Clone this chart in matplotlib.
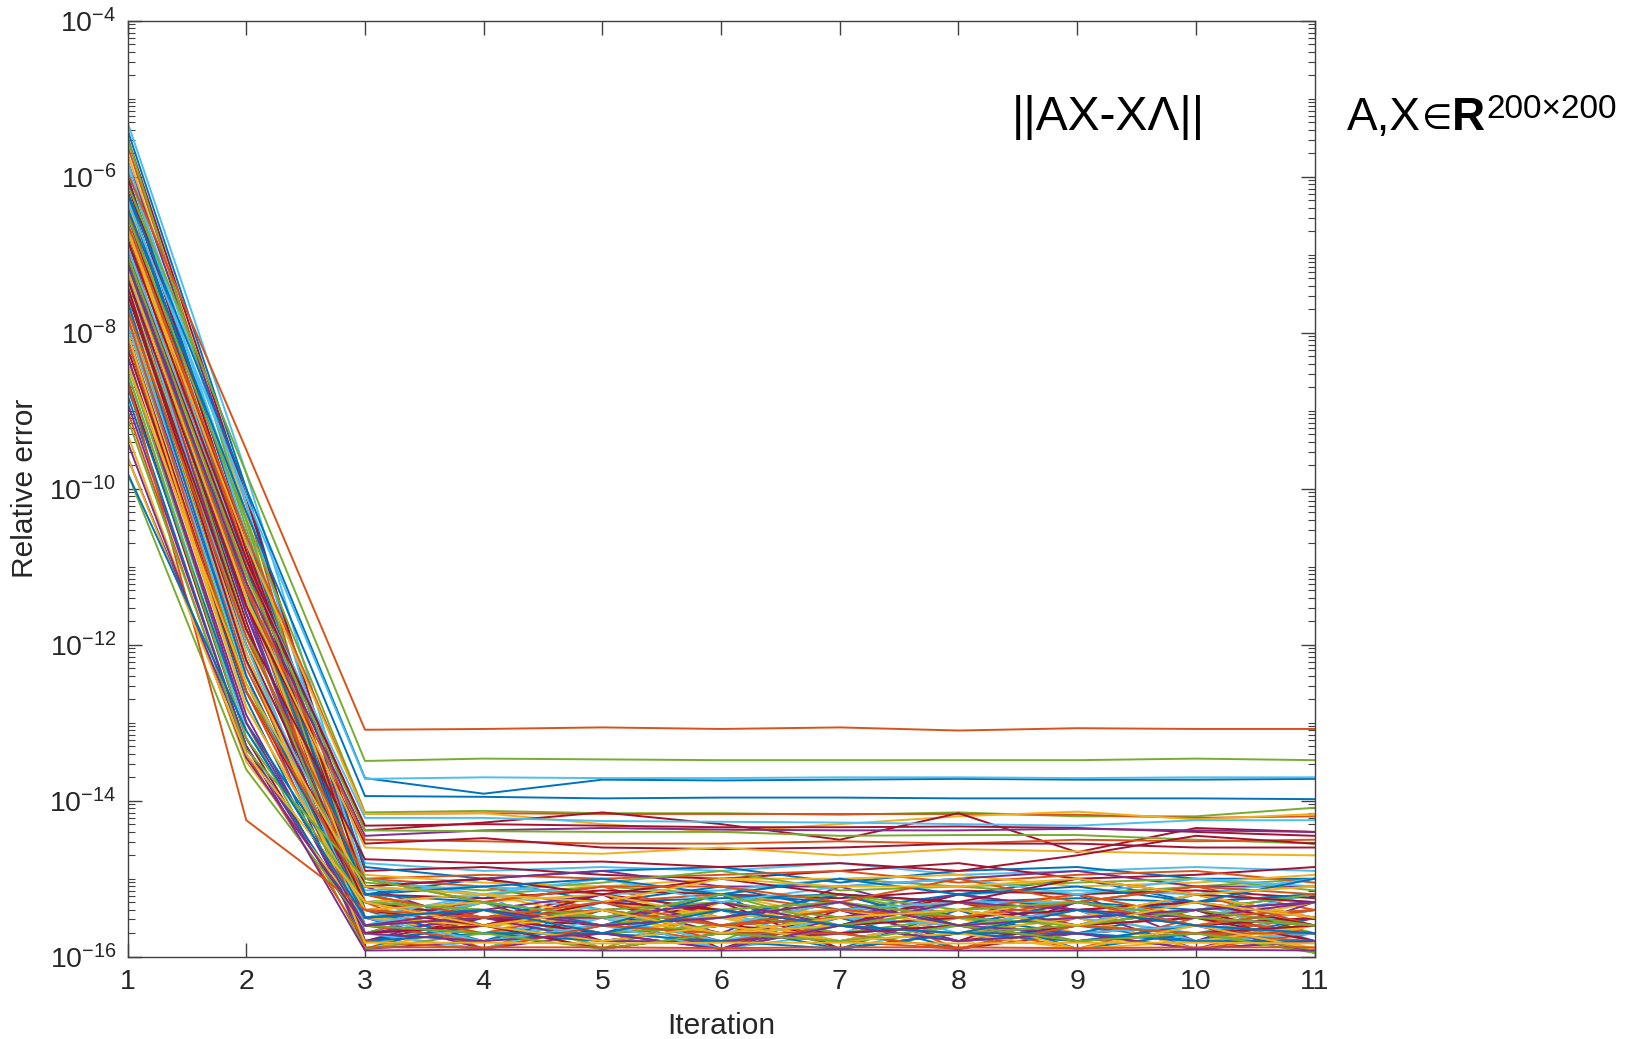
import numpy as np
import matplotlib.pyplot as plt
from matplotlib.ticker import LogLocator, NullFormatter

plt.rcParams['font.family'] = ['Liberation Sans', 'DejaVu Sans']
plt.rcParams['mathtext.fontset'] = 'custom'
plt.rcParams['mathtext.rm'] = 'Liberation Sans'
plt.rcParams['mathtext.it'] = 'Liberation Sans:italic'
plt.rcParams['mathtext.bf'] = 'Liberation Sans:bold'

iterations = np.arange(1, 12)
xtick_labels = [str(i) for i in iterations]
ytick_exps = [-16, -14, -12, -10, -8, -6, -4]
ytick_labels = [r'$10^{%d}$' % p for p in ytick_exps]

# log10 of relative error per iteration (1..11)
# lines that level off above the dense band
upper_lines = [
    [-5.95, -9.5, -13.09, -13.08, -13.06, -13.08, -13.06, -13.10, -13.07, -13.08, -13.08],
    [-6.1, -9.8, -13.49, -13.46, -13.47, -13.48, -13.48, -13.48, -13.48, -13.46, -13.48],
    [-6.2, -10.0, -13.71, -13.91, -13.73, -13.74, -13.73, -13.72, -13.73, -13.73, -13.72],
    [-6.3, -10.1, -13.72, -13.70, -13.71, -13.71, -13.70, -13.70, -13.71, -13.70, -13.70],
    [-6.4, -10.3, -13.94, -13.95, -13.97, -13.96, -13.96, -13.97, -13.97, -13.97, -13.98],
    [-6.5, -10.4, -14.15, -14.13, -14.16, -14.16, -14.18, -14.15, -14.20, -14.20, -14.09],
    [-6.6, -10.6, -14.17, -14.16, -14.17, -14.17, -14.17, -14.17, -14.18, -14.22, -14.20],
    [-6.7, -10.7, -14.17, -14.16, -14.30, -14.40, -14.30, -14.20, -14.14, -14.24, -14.17],
    [-6.8, -10.9, -14.38, -14.28, -14.15, -14.30, -14.50, -14.16, -14.66, -14.35, -14.40],
    [-6.9, -11.0, -14.22, -14.22, -14.26, -14.27, -14.28, -14.30, -14.32, -14.25, -14.25],
    [-7.0, -11.0, -14.32, -14.30, -14.32, -14.34, -14.34, -14.33, -14.35, -14.40, -14.45],
    [-7.1, -11.2, -14.45, -14.38, -14.35, -14.37, -14.38, -14.38, -14.36, -14.38, -14.40],
    [-7.0, -11.1, -14.38, -14.39, -14.40, -14.40, -14.45, -14.44, -14.44, -14.50, -14.55],
    [-7.2, -11.3, -14.50, -14.52, -14.55, -14.55, -14.52, -14.55, -14.50, -14.52, -14.50],
    [-7.3, -11.5, -14.55, -14.48, -14.60, -14.62, -14.60, -14.55, -14.55, -14.60, -14.60],
    [-7.2, -11.4, -14.60, -14.65, -14.68, -14.60, -14.70, -14.62, -14.65, -14.68, -14.70],
    [-7.5, -11.8, -14.75, -14.80, -14.78, -14.85, -14.80, -14.90, -14.70, -14.45, -14.55],
]
upper_colors = ['#D95319', '#77AC30', '#0072BD', '#4DBEEE', '#0072BD', '#77AC30',
                '#D95319', '#EDB120', '#A2142F', '#4DBEEE', '#A2142F', '#7E2F8E',
                '#77AC30', '#D95319', '#A2142F', '#EDB120', '#A2142F']

# lines inside the dense band near machine precision
band_lines = [
    [-5.4, -10.0, -15.2, -15.0, -15.3, -15.1, -15.4, -15.2, -15.0, -15.3, -15.2],
    [-5.6, -10.2, -15.5, -15.3, -15.1, -15.5, -15.2, -15.6, -15.3, -15.1, -15.4],
    [-5.7, -10.3, -15.9, -15.4, -15.6, -15.2, -15.5, -15.3, -15.7, -15.4, -15.6],
    [-5.8, -10.1, -15.1, -15.6, -15.3, -15.7, -15.1, -15.5, -15.2, -15.8, -15.3],
    [-5.9, -10.5, -15.4, -15.9, -15.4, -15.3, -15.6, -15.2, -15.5, -15.3, -15.7],
    [-6.0, -10.4, -15.6, -15.2, -15.9, -15.4, -15.3, -15.7, -15.4, -15.5, -15.2],
    [-6.1, -10.6, -15.3, -15.5, -15.2, -15.9, -15.4, -15.3, -15.6, -15.2, -15.5],
    [-6.2, -10.7, -15.7, -15.3, -15.5, -15.2, -15.9, -15.4, -15.3, -15.6, -15.4],
    [-6.3, -10.8, -15.0, -15.1, -15.4, -15.6, -15.3, -15.9, -15.5, -15.3, -15.6],
    [-6.3, -10.9, -15.5, -15.7, -15.3, -15.5, -15.6, -15.4, -15.9, -15.6, -15.3],
    [-6.4, -11.0, -15.8, -15.4, -15.7, -15.3, -15.5, -15.6, -15.4, -15.9, -15.5],
    [-6.5, -11.1, -15.2, -15.6, -15.5, -15.8, -15.2, -15.5, -15.6, -15.4, -15.95],
    [-6.5, -11.0, -15.6, -15.8, -15.3, -15.4, -15.7, -15.3, -15.5, -15.7, -15.4],
    [-6.6, -11.2, -15.4, -15.3, -15.8, -15.6, -15.4, -15.8, -15.3, -15.5, -15.6],
    [-6.7, -11.3, -15.9, -15.5, -15.4, -15.7, -15.8, -15.5, -15.7, -15.4, -15.8],
    [-6.7, -11.2, -15.3, -15.9, -15.6, -15.5, -15.3, -15.6, -15.8, -15.7, -15.5],
    [-6.8, -11.4, -15.5, -15.4, -15.9, -15.3, -15.6, -15.7, -15.4, -15.8, -15.6],
    [-6.9, -11.5, -15.7, -15.6, -15.5, -15.9, -15.5, -15.3, -15.6, -15.5, -15.7],
    [-6.9, -11.4, -15.1, -15.2, -15.1, -15.2, -15.0, -15.1, -15.2, -15.1, -15.0],
    [-7.0, -11.6, -15.6, -15.7, -15.6, -15.4, -15.9, -15.6, -15.5, -15.3, -15.8],
    [-7.1, -11.7, -15.8, -15.5, -15.7, -15.6, -15.7, -15.9, -15.7, -15.6, -15.4],
    [-7.1, -11.6, -15.4, -15.8, -15.4, -15.7, -15.5, -15.4, -15.9, -15.7, -15.6],
    [-7.2, -11.8, -15.3, -15.4, -15.6, -15.8, -15.6, -15.7, -15.5, -15.9, -15.7],
    [-7.3, -11.9, -15.9, -15.6, -15.3, -15.5, -15.8, -15.5, -15.6, -15.5, -15.9],
    [-7.3, -11.8, -15.5, -15.9, -15.7, -15.6, -15.4, -15.8, -15.7, -15.6, -15.5],
    [-7.4, -12.0, -15.7, -15.3, -15.9, -15.7, -15.6, -15.5, -15.8, -15.7, -15.6],
    [-7.5, -12.1, -15.6, -15.7, -15.5, -15.9, -15.7, -15.6, -15.4, -15.8, -15.7],
    [-7.5, -12.0, -15.2, -15.5, -15.6, -15.3, -15.9, -15.7, -15.6, -15.4, -15.8],
    [-7.6, -12.2, -15.8, -15.6, -15.8, -15.6, -15.5, -15.9, -15.6, -15.8, -15.5],
    [-7.7, -12.3, -15.4, -15.7, -15.4, -15.8, -15.7, -15.6, -15.9, -15.5, -15.7],
    [-7.7, -12.2, -15.6, -15.4, -15.7, -15.5, -15.8, -15.7, -15.5, -15.9, -15.6],
    [-7.8, -12.4, -15.9, -15.8, -15.6, -15.7, -15.6, -15.8, -15.7, -15.6, -15.95],
    [-7.9, -12.5, -15.5, -15.6, -15.9, -15.4, -15.7, -15.5, -15.8, -15.7, -15.6],
    [-7.9, -12.4, -15.7, -15.9, -15.5, -15.8, -15.5, -15.6, -15.7, -15.8, -15.7],
    [-8.0, -12.6, -15.3, -15.5, -15.7, -15.9, -15.6, -15.8, -15.6, -15.5, -15.8],
    [-8.1, -12.7, -15.8, -15.7, -15.8, -15.6, -15.9, -15.7, -15.8, -15.6, -15.7],
    [-8.1, -12.6, -15.6, -15.8, -15.6, -15.7, -15.8, -15.9, -15.6, -15.7, -15.8],
    [-8.2, -12.8, -15.4, -15.6, -15.5, -15.7, -15.6, -15.5, -15.9, -15.8, -15.6],
    [-8.3, -12.9, -15.7, -15.5, -15.8, -15.8, -15.7, -15.6, -15.7, -15.9, -15.8],
    [-8.4, -13.0, -15.9, -15.7, -15.7, -15.6, -15.8, -15.7, -15.6, -15.7, -15.9],
    [-8.5, -13.1, -15.5, -15.8, -15.6, -15.9, -15.6, -15.8, -15.7, -15.6, -15.7],
    [-8.6, -13.2, -15.7, -15.6, -15.9, -15.7, -15.7, -15.6, -15.8, -15.7, -15.6],
    [-8.8, -13.3, -15.6, -15.7, -15.7, -15.8, -15.9, -15.7, -15.7, -15.8, -15.8],
    [-9.0, -13.4, -15.8, -15.9, -15.6, -15.7, -15.7, -15.9, -15.6, -15.7, -15.7],
    [-9.3, -13.5, -15.5, -15.6, -15.8, -15.6, -15.8, -15.7, -15.9, -15.6, -15.9],
    [-9.6, -13.3, -15.7, -15.8, -15.7, -15.9, -15.6, -15.8, -15.7, -15.9, -15.8],
    [-9.8, -13.6, -15.6, -15.7, -15.9, -15.7, -15.8, -15.6, -15.8, -15.7, -15.95],
    [-5.3, -9.8, -14.8, -14.9, -14.85, -14.9, -14.8, -14.95, -14.9, -14.85, -14.9],
    [-5.5, -10.1, -14.9, -14.85, -14.95, -15.0, -14.9, -14.8, -15.0, -14.95, -14.85],
    [-6.0, -10.6, -14.85, -15.0, -14.9, -14.85, -15.05, -14.9, -14.85, -15.0, -15.0],
    [-6.2, -10.9, -15.0, -14.95, -15.0, -14.95, -14.9, -15.05, -14.95, -14.9, -15.05],
    [-6.6, -11.1, -14.95, -15.05, -15.1, -15.0, -15.0, -14.95, -15.1, -15.05, -14.95],
    [-7.0, -11.5, -15.1, -15.0, -14.9, -15.1, -15.1, -15.0, -14.9, -15.1, -15.1],
    [-7.4, -11.9, -15.05, -15.15, -15.05, -14.9, -15.15, -15.1, -15.05, -15.0, -15.15],
    [-7.8, -12.2, -15.15, -15.1, -15.2, -15.15, -15.0, -15.2, -15.15, -15.2, -15.0],
    [-8.2, -12.6, -15.2, -15.25, -15.15, -15.2, -15.25, -15.15, -15.2, -15.15, -15.25],
    [-8.7, -13.0, -15.3, -15.2, -15.3, -15.25, -15.2, -15.3, -15.25, -15.3, -15.2],
    [-6.4, -11.2, -15.88, -15.88, -15.88, -15.89, -15.88, -15.88, -15.89, -15.88, -15.88],
    [-7.6, -12.1, -15.82, -15.82, -15.83, -15.82, -15.82, -15.83, -15.82, -15.82, -15.83],
    [-8.9, -13.3, -15.92, -15.91, -15.92, -15.92, -15.91, -15.92, -15.92, -15.91, -15.92],
    [-5.5, -10.4, -15.3, -15.4, -15.5, -15.3, -15.5, -15.4, -15.3, -15.5, -15.4],
    [-5.8, -10.6, -15.5, -15.2, -15.4, -15.6, -15.3, -15.5, -15.6, -15.2, -15.3],
    [-6.0, -10.8, -15.4, -15.6, -15.2, -15.4, -15.6, -15.2, -15.4, -15.6, -15.5],
    [-6.2, -11.0, -15.2, -15.3, -15.6, -15.5, -15.2, -15.6, -15.3, -15.4, -15.2],
    [-6.4, -10.9, -15.6, -15.5, -15.3, -15.2, -15.4, -15.3, -15.5, -15.2, -15.6],
    [-6.6, -11.4, -15.3, -15.2, -15.5, -15.4, -15.3, -15.5, -15.2, -15.5, -15.3],
    [-6.8, -11.6, -15.5, -15.4, -15.2, -15.6, -15.5, -15.2, -15.4, -15.3, -15.5],
    [-7.0, -11.8, -15.4, -15.5, -15.4, -15.3, -15.2, -15.4, -15.6, -15.4, -15.2],
    [-7.2, -12.0, -15.6, -15.3, -15.5, -15.5, -15.4, -15.3, -15.3, -15.6, -15.4],
    [-7.4, -12.2, -15.3, -15.6, -15.3, -15.4, -15.6, -15.5, -15.4, -15.3, -15.6],
    [-7.6, -12.4, -15.5, -15.4, -15.6, -15.2, -15.3, -15.6, -15.5, -15.4, -15.3],
    [-7.8, -12.6, -15.2, -15.5, -15.4, -15.6, -15.5, -15.4, -15.2, -15.5, -15.4],
    [-8.0, -12.8, -15.4, -15.3, -15.2, -15.5, -15.4, -15.6, -15.5, -15.2, -15.5],
    [-8.3, -13.0, -15.6, -15.5, -15.5, -15.3, -15.6, -15.3, -15.4, -15.5, -15.3],
    [-8.5, -13.2, -15.3, -15.4, -15.6, -15.4, -15.3, -15.5, -15.6, -15.4, -15.6],
    [-5.9, -10.2, -15.0, -15.2, -15.0, -15.3, -15.1, -15.0, -15.2, -15.0, -15.1],
    [-6.5, -10.7, -15.1, -15.0, -15.2, -15.0, -15.2, -15.3, -15.0, -15.2, -15.3],
    [-7.1, -11.3, -15.2, -15.1, -15.0, -15.2, -15.0, -15.2, -15.1, -15.3, -15.0],
    [-7.7, -11.9, -15.0, -15.3, -15.1, -15.1, -15.3, -15.0, -15.3, -15.1, -15.2],
    [-8.4, -12.5, -15.1, -15.2, -15.3, -15.0, -15.1, -15.1, -15.0, -15.2, -15.1],
]

# few runs that started low and dropped further at step 2
low_lines = [
    [-8.6, -14.25, -15.4, -15.5, -15.3, -15.6, -15.4, -15.5, -15.3, -15.6, -15.4],
    [-9.1, -13.35, -15.0, -15.3, -15.5, -15.2, -15.6, -15.4, -15.3, -15.5, -15.6],
    [-9.4, -13.45, -15.6, -15.4, -15.6, -15.5, -15.3, -15.6, -15.5, -15.4, -15.3],
    [-9.6, -13.4, -15.3, -15.6, -15.4, -15.7, -15.5, -15.4, -15.6, -15.3, -15.5],
    [-9.8, -13.1, -15.5, -15.4, -15.7, -15.4, -15.6, -15.7, -15.4, -15.6, -15.7],
]
low_colors = ['#D95319', '#77AC30', '#7E2F8E', '#EDB120', '#0072BD']

matlab_colors = ['#0072BD', '#D95319', '#EDB120', '#7E2F8E', '#77AC30', '#4DBEEE', '#A2142F']

W, H = 1627, 1039
fig = plt.figure(figsize=(W / 100, H / 100), dpi=100)
ax = fig.add_axes([0.0784, 0.0792, 0.7296, 0.9008])

lw = 1.4
for i, e in enumerate(band_lines):
    ax.plot(iterations, 10.0 ** np.array(e), color=matlab_colors[i % 7], lw=lw)
for e, c in zip(low_lines, low_colors):
    ax.plot(iterations, 10.0 ** np.array(e), color=c, lw=lw)
for e, c in zip(upper_lines, upper_colors):
    ax.plot(iterations, 10.0 ** np.array(e), color=c, lw=lw)

ax.set_yscale('log')
ax.set_xlim(1, 11)
ax.set_ylim(1e-16, 1e-4)
ax.set_xticks(iterations)
ax.set_xticklabels(xtick_labels)
ax.set_yticks([10.0 ** p for p in ytick_exps])
ax.set_yticklabels(ytick_labels)
ax.yaxis.set_minor_locator(LogLocator(base=10, subs=np.arange(1, 10), numticks=60))
ax.yaxis.set_minor_formatter(NullFormatter())

ax.tick_params(which='both', direction='in', top=True, right=True, color='#404040')
ax.tick_params(which='major', length=10, width=1, labelsize=20.5, labelcolor='#262626')
ax.tick_params(axis='x', which='major', pad=9)
ax.tick_params(axis='y', which='major', pad=8)
ax.tick_params(which='minor', length=5, width=0.8)
for s in ax.spines.values():
    s.set_color('#404040')
    s.set_linewidth(1)

ax.set_xlabel('Iteration', fontsize=21.5, color='#262626')
ax.set_ylabel('Relative error', fontsize=21.5, color='#262626')
ax.xaxis.set_label_coords(0.5, -0.059)
ax.yaxis.set_label_coords(-0.0743, 0.5)

base_y = 1 - 130 / H
fig.text(1012 / W, base_y, '||AX-X\u039b||', fontsize=34.5, va='baseline', ha='left')

# A,X∈R with superscript 200×200, placed piece by piece
fig.canvas.draw()
r = fig.canvas.get_renderer()
t1 = fig.text(1347 / W, base_y, 'A,X', fontsize=33, va='baseline', ha='left')
x1 = t1.get_window_extent(r).x1
t2 = fig.text((x1 + 1) / W, base_y + 1 / H, '\u2208', fontsize=25, family='DejaVu Sans',
              va='baseline', ha='left')
x2 = t2.get_window_extent(r).x1
t3 = fig.text(x2 / W, base_y, 'R', fontsize=33, fontweight='bold', va='baseline', ha='left')
x3 = t3.get_window_extent(r).x1
fig.text((x3 + 1) / W, base_y + 12 / H, '200\u00d7200', fontsize=24, va='baseline', ha='left')

fig.savefig('out.png', dpi=100)
